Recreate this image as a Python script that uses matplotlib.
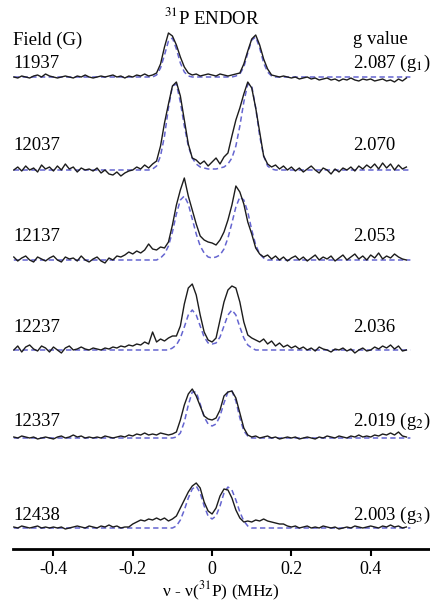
import matplotlib
matplotlib.use("Agg")

import matplotlib.pyplot as plt
import numpy as np

# field positions (G) and g values, top to bottom
fields = ["11937", "12037", "12137", "12237", "12337", "12438"]
g_labels = ["2.087 (g$_1$)", "2.070", "2.053", "2.036", "2.019 (g$_2$)", "2.003 (g$_3$)"]

# experimental traces, sampled every 0.01 MHz from -0.50 to 0.49
exp_11937 = [0, -1, 1, 0, -1, 1, 2, 0, 3, 1,
             0, -1, 0, 1, 0, -1, 1, 0, 2, 0,
             -1, 0, 1, 0, 1, 2, 0, 1, -1, 1,
             0, 2, 1, 3, 1, 2, 4, 13, 30, 44,
             41, 32, 20, 10, 4, 2, 3, 1, 2, 3,
             2, 1, 3, 2, 1, 2, 3, 4, 13, 26,
             38, 42, 32, 18, 8, 2, 1, 0, 1, 0,
             -1, 0, -2, -1, 0, -2, -1, -3, -2, -1,
             -3, -2, -4, -2, -3, -1, -3, -4, -2, -3,
             -2, -4, -3, -2, -4, -3, -5, -2, -4, -1]
exp_12037 = [0, 3, -1, 4, 0, 2, -2, 5, 1, 3,
             -1, 4, 0, 6, 1, 3, -2, 2, 0, 1,
             -1, 2, -3, 0, -4, -5, -2, -6, -3, -1,
             0, 3, 1, 5, 2, 6, 9, 24, 47, 66,
             84, 88, 74, 50, 26, 12, 10, 6, 9, 4,
             8, 12, 6, 13, 17, 34, 50, 62, 76, 88,
             82, 62, 38, 14, 6, 3, 5, 1, 4, 0,
             3, -1, 2, -2, 1, 4, 0, -3, 2, 0,
             -4, 1, -2, 2, 0, 3, -1, 4, 1, 5,
             2, 6, 1, 7, 2, 6, 0, 5, 1, 3]
exp_12137 = [3, -1, 2, 4, 0, -2, 3, 1, -1, 2,
             4, 0, -2, 3, 1, 2, -1, 4, 0, -2,
             1, 3, -1, -3, 2, 0, 4, 3, 5, 8,
             6, 9, 7, 10, 16, 11, 10, 13, 12, 18,
             35, 55, 70, 82, 64, 50, 36, 24, 20, 18,
             17, 15, 20, 28, 40, 55, 74, 68, 56, 38,
             26, 12, 6, 3, 5, 1, 4, 0, 3, -1,
             2, 4, 0, 3, -1, 2, 5, 0, 3, 1,
             4, -1, 2, 5, 0, 3, 6, 1, 4, 0,
             5, 2, 7, 1, 4, 2, 6, 3, 1, 0]
exp_12237 = [0, 4, -2, 3, 5, 1, -1, 4, 2, -2,
             3, 0, -3, 2, 4, 0, 1, 3, 1, 0,
             2, 1, 0, 2, 1, 3, 2, 4, 3, 5,
             4, 6, 5, 8, 6, 18, 8, 11, 9, 12,
             14, 14, 24, 46, 62, 66, 55, 35, 18, 10,
             8, 12, 30, 48, 60, 64, 62, 48, 28, 15,
             12, 10, 8, 11, 6, 9, 4, 7, 3, 5,
             2, 4, 1, 3, 0, 2, -1, 3, 1, 0,
             -2, 1, 0, 2, -1, 1, -3, 0, 2, -1,
             0, 3, 1, 4, 2, 5, 1, 4, -1, 0]
exp_12337 = [1, 0, 2, 1, 0, 1, -1, 0, 1, 0,
             -1, 1, 2, 0, 1, 3, 1, 2, 0, 1,
             0, 1, 0, 2, 1, 0, 1, 2, 1, 3,
             2, 4, 3, 5, 3, 4, 3, 5, 4, 3,
             4, 6, 18, 33, 44, 49, 42, 32, 22, 19,
             18, 20, 28, 42, 46, 47, 40, 25, 10, 3,
             1, 2, 0, 1, 2, 0, 1, -1, 0, 1,
             0, 1, -1, 0, 1, 0, -1, 1, 0, 2,
             1, 0, 2, 1, 0, 2, 1, 3, 1, 2,
             1, 3, 2, 4, 3, 5, 3, 6, 2, 1]
exp_12438 = [1, 0, 2, 1, 0, 1, 2, 0, 1, 0,
             1, 0, 1, -1, 0, 1, 2, 1, 0, 2,
             1, 0, 2, 1, 3, 1, 2, 0, 1, 1,
             4, 6, 8, 7, 9, 8, 10, 8, 10, 7,
             9, 12, 20, 28, 36, 42, 45, 40, 26, 17,
             14, 20, 32, 39, 38, 30, 18, 10, 6, 7,
             6, 8, 7, 9, 7, 6, 5, 4, 4, 2,
             1, 2, 0, 1, 2, 0, 1, 0, 2, 1,
             0, 1, -1, 0, 1, 0, 2, 1, 0, 1,
             2, 1, 0, 2, 1, 3, 1, 2, 0, 1]

# simulations, sampled every 0.01 MHz from -0.20 to 0.20 (flat outside)
sim_11937 = [0, 0, 0, 0, 0, 0, 2, 9, 22, 36,
             39, 28, 14, 5, 1, 0, 0, 0, 0, 0,
             0, 0, 0, 0, 0, 0, 1, 3, 10, 24,
             37, 40, 29, 14, 5, 1, 0, 0, 0, 0, 0]
sim_12037 = [0, 0, 0, 0, 0, 1, 4, 14, 34, 62,
             84, 86, 68, 44, 24, 12, 6, 3, 2, 1,
             1, 1, 2, 3, 6, 12, 24, 44, 68, 86,
             84, 62, 34, 14, 4, 1, 0, 0, 0, 0, 0]
sim_12137 = [0, 0, 0, 0, 0, 0, 0, 2, 6, 14,
             28, 46, 60, 64, 56, 41, 26, 14, 7, 3,
             2, 3, 5, 11, 22, 37, 53, 63, 60, 48,
             30, 15, 6, 2, 0, 0, 0, 0, 0, 0, 0]
sim_12237 = [0, 0, 0, 0, 0, 0, 0, 0, 0, 0,
             2, 5, 12, 23, 35, 40, 35, 24, 13, 7,
             6, 7, 13, 24, 35, 40, 35, 23, 12, 5,
             2, 0, 0, 0, 0, 0, 0, 0, 0, 0, 0]
sim_12337 = [0, 0, 0, 0, 0, 0, 0, 0, 0, 0,
             0, 1, 5, 16, 33, 46, 46, 34, 21, 14,
             12, 14, 22, 35, 46, 47, 37, 20, 7, 2,
             0, 0, 0, 0, 0, 0, 0, 0, 0, 0, 0]
sim_12438 = [0, 0, 0, 0, 0, 0, 0, 0, 0, 0,
             0, 2, 8, 18, 30, 39, 42, 35, 22, 12,
             9, 12, 22, 35, 41, 38, 28, 16, 7, 2,
             0, 0, 0, 0, 0, 0, 0, 0, 0, 0, 0]

exp_traces = [exp_11937, exp_12037, exp_12137, exp_12237, exp_12337, exp_12438]
sim_traces = [sim_11937, sim_12037, sim_12137, sim_12237, sim_12337, sim_12438]

# vertical stacking of the spectra
offsets = [451, 358, 268, 178, 90, 0]

W, H = 431, 604
plt.rcParams["font.family"] = ["Liberation Serif", "DejaVu Serif"]
plt.rcParams["mathtext.fontset"] = "stix"
plt.rcParams["axes.unicode_minus"] = False

fig = plt.figure(figsize=(W / 100, H / 100), dpi=100)
ax = fig.add_axes([13 / W, 55 / H, 1 - 13 / W, 549 / H])

x_exp = np.round(-0.50 + 0.01 * np.arange(len(exp_11937)), 2)
x_sim = np.concatenate([[-0.50], np.round(-0.20 + 0.01 * np.arange(len(sim_11937)), 2), [0.50]])

for exp, sim, off in zip(exp_traces, sim_traces, offsets):
    sim_full = np.concatenate([[0], sim, [0]]) + off
    ax.plot(x_sim, sim_full, color="#6565d0", lw=1.1, ls=(0, (3.5, 2.2)), zorder=2)
    ax.plot(x_exp, np.array(exp) + off, color="#1c1c1c", lw=1.0, zorder=3)

ax.set_xlim(-0.502, 0.552)
ax.set_ylim(-21, 528)

for s in ["top", "right", "left"]:
    ax.spines[s].set_visible(False)
ax.spines["bottom"].set_linewidth(2.0)
ax.set_yticks([])
ax.set_xticks([-0.4, -0.2, 0, 0.2, 0.4])
ax.set_xticklabels(["-0.4", "-0.2", "0", "0.2", "0.4"], fontsize=13)
ax.tick_params(axis="x", direction="out", length=5, width=1.5, pad=4)


def put(text, x, y, ha="left", size=13.5):
    fig.text(x / W, 1 - y / H, text, ha=ha, va="center", fontsize=size)


put("$^{31}$P ENDOR", 212, 18, ha="center")
put("Field (G)", 13, 40)
put("g value", 353, 40)
label_y = [63, 146, 237, 328, 421, 515]
for f, g, y in zip(fields, g_labels, label_y):
    put(f, 13, y)
    put(g, 353, y)

# x axis title
put("ν - ν($^{31}$P) (MHz)", 221, 591, ha="center", size=12.5)

fig.savefig("out.png", dpi=100)
